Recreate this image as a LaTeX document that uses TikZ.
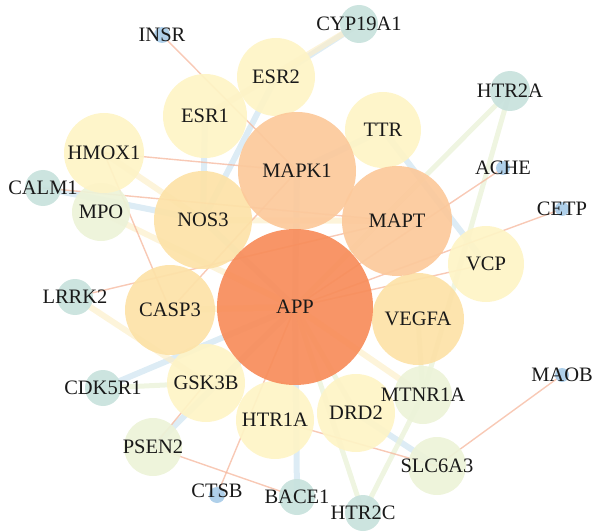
\documentclass[tikz,border=0pt]{standalone}
\usepackage{fontspec}
\setmainfont{Liberation Serif}
\definecolor{cApp}{HTML}{F88D5B}
\definecolor{cOr}{HTML}{FCC99B}
\definecolor{cLo}{HTML}{FDE2A8}
\definecolor{cYe}{HTML}{FEF4C6}
\definecolor{cGr}{HTML}{EDF3D8}
\definecolor{cTe}{HTML}{C8E2DD}
\definecolor{cBl}{HTML}{A9CCE8}
\definecolor{cEo}{HTML}{F6B79C}
\definecolor{cEb}{HTML}{D2E6F1}
\definecolor{cEg}{HTML}{EBF3DA}
\definecolor{cEy}{HTML}{FCEFCB}
\tikzset{
  nd/.style={circle, inner sep=0pt, draw=none, fill opacity=0.93},
  eo/.style={draw=cEo, line width=1.4pt, opacity=0.75},
  eb/.style={draw=cEb, line width=6pt, opacity=0.75},
  eg/.style={draw=cEg, line width=5pt, opacity=0.8},
  ey/.style={draw=cEy, line width=6pt, opacity=0.7},
  lbl/.style={font=\fontsize{20.5}{20.5}\selectfont, text=black!90, inner sep=0pt}
}
\newcommand\gn[5]{\node[nd, fill=#5, minimum size=#4*2pt] (#1) at (#2,#3) {};}
\begin{document}
\begin{tikzpicture}[x=1pt,y=-1pt]
\useasboundingbox (0,0) rectangle (592,532);
% node positions (coordinates only, circles drawn later)
\foreach \n/\x/\y in {APP/295/307, MAPK1/297/171, MAPT/397/221, NOS3/203/220, CASP3/170/310, VEGFA/418/319,
  ESR1/205/116, ESR2/276/77, TTR/383/130, HMOX1/104/153, VCP/486/264, GSK3B/206/383, HTR1A/275/420, DRD2/356/413,
  MPO/101/212, PSEN2/153/447, MTNR1A/423/395, SLC6A3/437/466, CALM1/43/188, LRRK2/75/297, CDK5R1/103/388,
  CYP19A1/359/24, HTR2A/510/91, BACE1/297/497, HTR2C/363/513, INSR/162/35, ACHE/503/168, CETP/562/209,
  MAOB/562/375, CTSB/217/495}
  \coordinate (p\n) at (\x,\y);
% edges
\foreach \a/\b in {CALM1/NOS3, ESR1/NOS3, ESR2/NOS3, CYP19A1/ESR2, BACE1/APP, PSEN2/APP, CDK5R1/APP,
  DRD2/SLC6A3, TTR/VCP, MAPK1/TTR, MAPK1/APP, NOS3/APP}
  \draw[eb] (p\a) -- (p\b);
\foreach \a/\b in {HMOX1/NOS3, LRRK2/GSK3B, MTNR1A/APP, CYP19A1/ESR1, MPO/APP, NOS3/MAPT, CASP3/APP}
  \draw[ey] (p\a) -- (p\b);
\foreach \a/\b in {HTR2A/MTNR1A, HTR2A/APP, HTR2C/APP, HTR2C/MTNR1A, CDK5R1/GSK3B, VEGFA/MTNR1A, DRD2/APP}
  \draw[eg] (p\a) -- (p\b);
\foreach \a/\b in {INSR/MAPK1, HMOX1/MAPK1, CALM1/MAPT, HMOX1/CASP3, ACHE/APP, CETP/APP, MAOB/SLC6A3,
  HTR1A/SLC6A3, PSEN2/BACE1, PSEN2/GSK3B, CTSB/APP, LRRK2/MAPT, VCP/APP, CASP3/MAPK1}
  \draw[eo] (p\a) -- (p\b);
% circles
\gn{INSR}{162}{35}{8}{cBl}
\gn{ACHE}{503}{168}{7}{cBl}
\gn{CETP}{562}{209}{7}{cBl}
\gn{MAOB}{562}{375}{7}{cBl}
\gn{CTSB}{217}{495}{8}{cBl}
\gn{CALM1}{43}{188}{18}{cTe}
\gn{LRRK2}{75}{297}{18}{cTe}
\gn{CDK5R1}{103}{388}{18}{cTe}
\gn{CYP19A1}{359}{24}{19}{cTe}
\gn{HTR2A}{510}{91}{20}{cTe}
\gn{BACE1}{297}{497}{18}{cTe}
\gn{HTR2C}{363}{513}{18}{cTe}
\gn{MPO}{101}{212}{29}{cGr}
\gn{PSEN2}{153}{447}{29}{cGr}
\gn{MTNR1A}{423}{395}{29}{cGr}
\gn{SLC6A3}{437}{466}{29}{cGr}
\gn{HMOX1}{104}{153}{40}{cYe}
\gn{ESR1}{205}{116}{42}{cYe}
\gn{ESR2}{276}{77}{39}{cYe}
\gn{TTR}{383}{130}{38}{cYe}
\gn{VCP}{486}{264}{38}{cYe}
\gn{GSK3B}{206}{383}{39}{cYe}
\gn{HTR1A}{275}{420}{39}{cYe}
\gn{DRD2}{356}{413}{39}{cYe}
\gn{NOS3}{203}{220}{49}{cLo}
\gn{CASP3}{170}{310}{45}{cLo}
\gn{VEGFA}{418}{319}{46}{cLo}
\gn{MAPK1}{297}{171}{59}{cOr}
\gn{MAPT}{397}{221}{55}{cOr}
\gn{APP}{295}{307}{78}{cApp}
% labels
\foreach \n in {APP, MAPK1, MAPT, NOS3, CASP3, VEGFA, ESR1, ESR2, TTR, HMOX1, VCP, GSK3B, HTR1A, DRD2,
  MPO, PSEN2, MTNR1A, SLC6A3, CALM1, LRRK2, CDK5R1, CYP19A1, HTR2A, BACE1, HTR2C, INSR, ACHE, CETP, MAOB}
  \node[lbl] at (\n) {\n};
\node[lbl, yshift=4pt] at (CTSB) {CTSB};
\end{tikzpicture}
\end{document}
